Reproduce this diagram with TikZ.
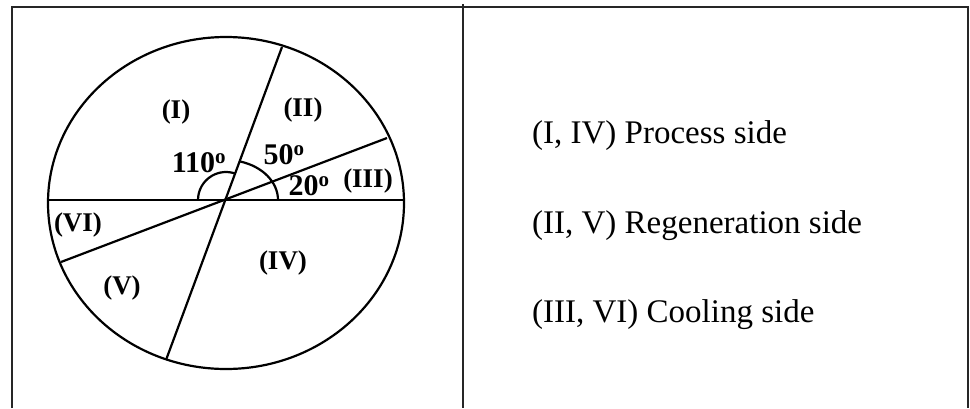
\documentclass[tikz,border=0pt]{standalone}
\usepackage{fontspec}
\setmainfont{Liberation Serif}
\usetikzlibrary{positioning}

\begin{document}
\begin{tikzpicture}[
  x=1pt, y=-1pt,
  frame/.style={draw=black!85, line width=1.5pt},
  wheel/.style={draw=black, line width=2.2pt},
  sector/.style={font=\fontsize{27}{30}\selectfont\bfseries, inner sep=0pt},
  angle/.style={sector, font=\fontsize{30}{32}\selectfont\bfseries},
  legend/.style={font=\fontsize{33}{36}\selectfont, inner sep=0pt, anchor=west}
]
  \useasboundingbox (0,0) rectangle (970,408);

  % table frame, open at the bottom
  \draw[frame] (12,408) -- (12,7) -- (968,7) -- (968,408);
  \draw[frame] (463,4) -- (463,408);

  % wheel
  \coordinate (O) at (226,200);
  \draw[wheel] (226,203) ellipse [x radius=178, y radius=166];
  \coordinate (W) at (48,200);
  \coordinate (E) at (404,200);
  \coordinate (N70) at (282,47);
  \coordinate (S70) at (166,360);
  \coordinate (N20) at (387,138);
  \coordinate (S20) at (61,262);
  \draw[wheel] (W) -- (E);
  \draw[wheel] (S70) -- (N70);
  \draw[wheel] (S20) -- (N20);

  % angle marks
  \draw[wheel] ([xshift=-28pt]O) arc [start angle=180, end angle=70, radius=28pt];
  \draw[wheel] ([xshift=52pt]O) arc [start angle=0, end angle=74,
    x radius=52pt, y radius=40pt];

  % sector labels
  \node[sector] (s1) at (176,112) {(I)};
  \node[sector] (s2) at (303,110) {(II)};
  \node[sector] (s3) at (368,181) {(III)};
  \node[sector] (s4) at (283,263) {(IV)};
  \node[sector] (s5) at (122,288) {(V)};
  \node[sector] (s6) at (78,225) {(VI)};
  \node[angle] (a110) at (199,163) {110\textsuperscript{o}};
  \node[angle] (a50) at (284,155) {50\textsuperscript{o}};
  \node[angle] (a20) at (309,186) {20\textsuperscript{o}};

  % legend
  \node[legend] (process) at (532,136) {(I, IV) Process side};
  \node[legend, below=59pt of process.south west, anchor=north west] (regen)
    {(II, V) Regeneration side};
  \node[legend, below=59pt of regen.south west, anchor=north west] (cooling)
    {(III, VI) Cooling side};
\end{tikzpicture}
\end{document}
